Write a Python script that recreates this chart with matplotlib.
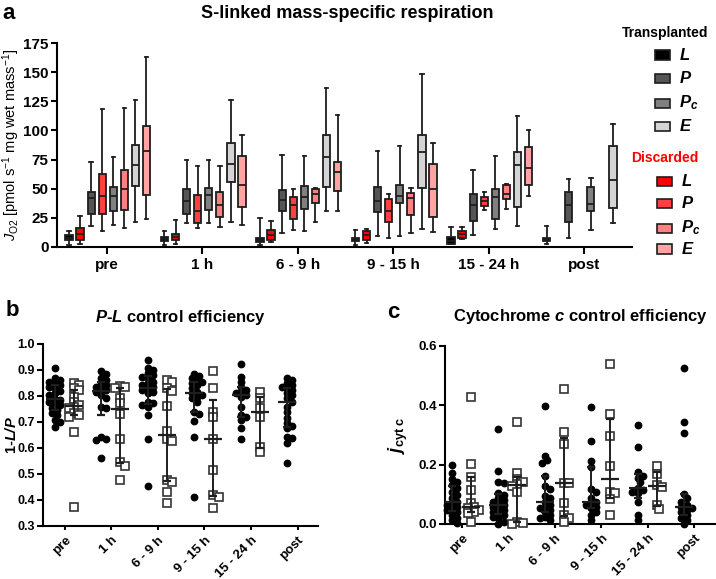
import numpy as np
import matplotlib
matplotlib.use('Agg')
import matplotlib.pyplot as plt
from matplotlib.patches import Rectangle

plt.rcParams['font.family'] = 'Liberation Sans'
plt.rcParams['mathtext.fontset'] = 'custom'
plt.rcParams['mathtext.rm'] = 'Liberation Sans'
plt.rcParams['mathtext.it'] = 'Liberation Sans:italic'
plt.rcParams['mathtext.bf'] = 'Liberation Sans:bold'
plt.rcParams['mathtext.bfit'] = 'Liberation Sans:italic:bold'

groups = ['pre', '1 h', '6 - 9 h', '9 - 15 h', '15 - 24 h', 'post']

# panel a: box stats per group (whisker low, q1, median, q3, whisker high)
T_L = [(2, 6, 8, 10, 14), (2, 5, 7, 9, 14), (1.5, 4.3, 6.3, 7.7, 24.5),
       (1.7, 5.1, 6.9, 8, 15), (2.9, 3, 5.4, 8.3, 17.5), (2.6, 5.1, 6.9, 8, 18)]
D_L = [(3, 6, 11, 16, 27), (3, 5.7, 8.6, 11.5, 23), (4.3, 6.3, 10, 14.3, 22),
       (3.5, 6, 10, 14, 15.5), (6.9, 8, 11.2, 14, 17.4), None]
T_P = [(17.8, 28.7, 42, 46.8, 72.9), (20.7, 28.7, 39.3, 49.6, 74.6), (12.3, 31, 40, 49.3, 79),
       (9.7, 29.7, 39.5, 51.2, 82.6), (10.3, 22, 35.7, 45.5, 66), (8, 21.4, 36.3, 46.9, 58.3)]
D_P = [(13.5, 28, 43.6, 63, 118.8), (16.4, 21, 31, 45, 69.7), (15, 24.4, 36.4, 43, 49.6),
       (8, 21.4, 30.9, 40.9, 45.8), (31.5, 35.2, 39.7, 43.2, 46.9), None]
T_Pc = [(18.6, 31.3, 43.6, 51.6, 77.5), (20.7, 31.6, 44.2, 50.2, 75), (13.5, 33, 43, 52.5, 78.3),
        (9.7, 37.7, 43.8, 52.9, 86.4), (15.7, 24.3, 42.9, 50, 77.8), (14.6, 30.9, 36.9, 51.2, 59.5)]
D_Pc = [(16.4, 31.6, 49.6, 66, 119), (17.2, 25.8, 36.4, 47.3, 69.7), (21.2, 37.5, 45.5, 49.5, 50.6),
        (11.7, 27.2, 42, 46.6, 50.9), (32.9, 40.9, 45.8, 53.2, 54.3), None]
T_E = [(21.5, 52.5, 70, 87.5, 126.5), (21.5, 56, 71, 89.5, 125.7), (30.7, 51.6, 77.5, 95.8, 136),
       (15.4, 50.3, 81.2, 96.4, 148.7), (18.3, 34.3, 70.3, 81.2, 112), (20.6, 33.2, 57.2, 86.6, 105.8)]
D_E = [(24, 44.5, 82, 104, 163), (18.6, 34.4, 53.6, 77.7, 96), (30.7, 48, 64.5, 72.5, 113),
       (12.6, 26, 49.5, 71.2, 89.5), (44, 53.2, 67.5, 85.5, 100.4), None]

series_labels = ['L', 'P', 'P_c', 'E']
T_colors = ['#000000', '#555555', '#808080', '#d4d4d4']
D_colors = ['#ff0000', '#ff4040', '#ff8080', '#ffa3a3']

# panel b: 1-L/P
pl_transplanted = [
    [0.906, 0.868, 0.862, 0.855, 0.849, 0.842, 0.836, 0.829, 0.82, 0.81, 0.804, 0.79, 0.785,
     0.778, 0.77, 0.765, 0.753, 0.745, 0.733, 0.727, 0.708, 0.699, 0.682],
    [0.896, 0.883, 0.868, 0.862, 0.849, 0.842, 0.836, 0.829, 0.823, 0.816, 0.804, 0.791,
     0.759, 0.753, 0.644, 0.635, 0.631, 0.56],
    [0.938, 0.906, 0.9, 0.887, 0.881, 0.874, 0.868, 0.855, 0.849, 0.842, 0.836, 0.829, 0.823,
     0.816, 0.81, 0.778, 0.772, 0.765, 0.759, 0.727, 0.633, 0.455],
    [0.883, 0.878, 0.868, 0.862, 0.855, 0.849, 0.842, 0.829, 0.817, 0.81, 0.804, 0.797, 0.791,
     0.778, 0.74, 0.729, 0.704, 0.641, 0.41],
    [0.922, 0.874, 0.855, 0.836, 0.823, 0.816, 0.81, 0.804, 0.797, 0.759, 0.727, 0.721,
     0.708, 0.678, 0.635],
    [0.871, 0.862, 0.849, 0.842, 0.836, 0.829, 0.823, 0.81, 0.804, 0.791, 0.778, 0.759, 0.74,
     0.714, 0.695, 0.686, 0.676, 0.644, 0.637, 0.618, 0.544],
]
pl_discarded = [
    [0.849, 0.842, 0.829, 0.823, 0.797, 0.778, 0.765, 0.759, 0.753, 0.733, 0.727, 0.72, 0.663, 0.372],
    [0.84, 0.836, 0.829, 0.791, 0.772, 0.729, 0.633, 0.545, 0.531, 0.477],
    [0.862, 0.855, 0.832, 0.819, 0.763, 0.667, 0.635, 0.627, 0.477, 0.471, 0.429, 0.388],
    [0.897, 0.832, 0.737, 0.718, 0.633, 0.515, 0.419, 0.41, 0.368],
    [0.814, 0.791, 0.755, 0.72, 0.603, 0.585],
    [],
]

# panel c: j cyt c
cyt_transplanted = [
    [0.199, 0.173, 0.151, 0.143, 0.131, 0.12, 0.109, 0.098, 0.087, 0.075, 0.07, 0.064, 0.058,
     0.053, 0.047, 0.042, 0.03, 0.021, 0.013, 0.004],
    [0.32, 0.18, 0.143, 0.137, 0.103, 0.098, 0.087, 0.081, 0.075, 0.07, 0.064, 0.058, 0.053,
     0.047, 0.042, 0.036, 0.03, 0.025, 0.019, 0.008, 0.0],
    [0.399, 0.23, 0.216, 0.207, 0.163, 0.129, 0.118, 0.096, 0.087, 0.075, 0.064, 0.058, 0.053,
     0.047, 0.042, 0.03, 0.025, 0.019, 0.013],
    [0.396, 0.281, 0.213, 0.191, 0.117, 0.109, 0.087, 0.075, 0.07, 0.064, 0.058, 0.053, 0.042,
     0.03, 0.013],
    [0.334, 0.261, 0.174, 0.163, 0.156, 0.143, 0.12, 0.115, 0.109, 0.103, 0.075, 0.03, 0.013],
    [0.527, 0.345, 0.306, 0.1, 0.087, 0.075, 0.064, 0.058, 0.053, 0.047, 0.042, 0.03, 0.021,
     0.013, 0.0],
]
cyt_discarded = [
    [0.427, 0.202, 0.158, 0.115, 0.072, 0.058, 0.053, 0.047, 0.042, 0.036, 0.006],
    [0.345, 0.173, 0.152, 0.143, 0.135, 0.129, 0.109, 0.008, 0.004, 0.001],
    [0.454, 0.311, 0.27, 0.139, 0.137, 0.07, 0.03, 0.021, 0.006],
    [0.539, 0.371, 0.298, 0.196, 0.109, 0.103, 0.083, 0.03],
    [0.196, 0.167, 0.131, 0.126, 0.064, 0.049],
    [],
]

EDGE = '#1e1e1e'
W, H = 716.0, 579.0


def style_axes(ax, tick_size):
    for side in ['top', 'right']:
        ax.spines[side].set_visible(False)
    for side in ['left', 'bottom']:
        ax.spines[side].set_linewidth(1.5)
    ax.tick_params(width=1.5, length=4, labelsize=tick_size, direction='out', pad=2)
    for lab in ax.get_xticklabels() + ax.get_yticklabels():
        lab.set_fontweight('bold')


def swarm_x(values, center, px_per_x, px_per_y, size=4.6, step=2.6, kmax=3):
    # small beeswarm: spread crowded points sideways, accept overlap when it gets too full
    values = np.asarray(values, dtype=float)
    xs = np.zeros(len(values))
    placed = []
    ks = [0]
    for k in range(1, kmax + 1):
        ks += [k, -k]
    for i in np.argsort(values)[::-1]:
        y = values[i] * px_per_y
        best, best_d = 0.0, -1.0
        for k in ks:
            x = k * step
            d = min([np.hypot(x - px, y - py) for px, py in placed] + [99.0])
            if d >= size:
                best = x
                break
            if d > best_d + 0.5:
                best, best_d = x, d
        placed.append((best, y))
        xs[i] = center + best / px_per_x
    return xs


def dot_panel(ax, trans, disc, px_per_x, px_per_y):
    for g in range(len(groups)):
        for vals, off, kind in [(trans[g], -0.22, 'dot'), (disc[g], 0.19, 'sq')]:
            if len(vals) == 0:
                continue
            xs = swarm_x(vals, g + off, px_per_x, px_per_y)
            if kind == 'dot':
                ax.plot(xs, vals, 'o', ms=4.6, color='black', mec='black', clip_on=False, zorder=3)
            else:
                ax.plot(xs, vals, 's', ms=5.3, mfc='white', mec='#333333', mew=1.2,
                        clip_on=False, zorder=3)
            q1, med, q3 = np.percentile(vals, [25, 50, 75], method='weibull')
            ax.errorbar([g + off], [med], yerr=[[med - q1], [q3 - med]], fmt='_', ms=13,
                        mew=1.6, color=EDGE, elinewidth=1.4, capsize=3, capthick=1.4, zorder=4)


fig = plt.figure(figsize=(7.16, 5.79), dpi=100)

# ---- panel a ----
ax_a = fig.add_axes([57 / W, 1 - 247 / H, 575 / W, 204 / H])
all_series = [T_L, D_L, T_P, D_P, T_Pc, D_Pc, T_E, D_E]
all_colors = [T_colors[0], D_colors[0], T_colors[1], D_colors[1],
              T_colors[2], D_colors[2], T_colors[3], D_colors[3]]
for k, (stats, color) in enumerate(zip(all_series, all_colors)):
    offset = -0.395 + k * 0.116
    for g, s in enumerate(stats):
        if s is None:
            continue
        lo, q1, med, q3, hi = s
        ax_a.bxp([dict(whislo=lo, q1=q1, med=med, q3=q3, whishi=hi, fliers=[])],
                 positions=[g + offset], widths=0.075, patch_artist=True, showfliers=False,
                 capwidths=0.035, manage_ticks=False,
                 boxprops=dict(facecolor=color, edgecolor=EDGE, linewidth=1.3),
                 medianprops=dict(color=EDGE, linewidth=1.3),
                 whiskerprops=dict(color=EDGE, linewidth=1.3),
                 capprops=dict(color=EDGE, linewidth=1.3))
ax_a.set_xlim(-0.52, 5.5)
ax_a.set_ylim(0, 175)
ax_a.set_yticks(range(0, 176, 25))
ax_a.set_xticks(range(len(groups)))
ax_a.set_xticklabels(groups)
style_axes(ax_a, 11)
ax_a.tick_params(axis='x', length=5, pad=3)
ax_a.set_ylabel(r'$J_{\mathrm{O2}}$ [pmol s$^{-1}$ mg wet mass$^{-1}$]', fontsize=10.5, labelpad=1)
fig.text(0.485, 0.977, 'S-linked mass-specific respiration', ha='center', va='center',
         fontsize=13, fontweight='bold')
fig.text(0.004, 0.977, 'a', ha='left', va='center', fontsize=16, fontweight='bold')

# legend drawn by hand in figure pixels
fig.text(665 / W, 1 - 33 / H, 'Transplanted', ha='center', va='center', fontsize=10,
         fontweight='bold', color='black')
fig.text(665 / W, 1 - 158 / H, 'Discarded', ha='center', va='center', fontsize=10,
         fontweight='bold', color='#ff0000')
t_rows = [55, 78, 103, 126]
d_rows = [181, 203, 228, 249]
for lab, tc, dc, ty, dy in zip(series_labels, T_colors, D_colors, t_rows, d_rows):
    for x0, y0, c in [(655, ty, tc), (657, dy, dc)]:
        fig.patches.append(Rectangle((x0 / W, 1 - (y0 + 4.5) / H), 15 / W, 9 / H,
                                     transform=fig.transFigure, facecolor=c,
                                     edgecolor=EDGE, linewidth=1.2))
        fig.text((x0 + 24) / W, 1 - y0 / H, r'$\mathbfit{' + lab + '}$', ha='left',
                 va='center', fontsize=12)

# ---- panel b ----
ax_b = fig.add_axes([43 / W, 1 - 526 / H, 275 / W, 182 / H])
dot_panel(ax_b, pl_transplanted, pl_discarded, 46.5, 260.0)
ax_b.set_xlim(-0.47, 5.44)
ax_b.set_ylim(0.3, 1.0)
ax_b.set_yticks(np.arange(0.3, 1.01, 0.1))
ax_b.set_yticklabels(['0.3', '0.4', '0.5', '0.6', '0.7', '0.8', '0.9', '1.0'])
ax_b.set_xticks(range(len(groups)))
ax_b.set_xticklabels(groups, rotation=45, ha='right', rotation_mode='anchor')
style_axes(ax_b, 9)
ax_b.tick_params(axis='x', length=3, pad=3, labelsize=9.5)
ax_b.set_ylabel(r'1-$\mathbfit{L/P}$', fontsize=10.5, fontweight='bold')
ax_b.yaxis.set_label_coords(-0.088, 0.5)
ax_b.set_title(r'$\mathbfit{P}$-$\mathbfit{L}$ control efficiency', fontsize=12,
               fontweight='bold', pad=16)
fig.text(0.008, 1 - 310 / H, 'b', ha='left', va='center', fontsize=16, fontweight='bold')

# ---- panel c ----
ax_c = fig.add_axes([445 / W, 1 - 524 / H, 271 / W, 178 / H])
dot_panel(ax_c, cyt_transplanted, cyt_discarded, 46.4, 178.0 / 0.6)
ax_c.set_xlim(-0.37, 5.47)
ax_c.set_ylim(0, 0.6)
ax_c.set_yticks([0.0, 0.2, 0.4, 0.6])
ax_c.set_yticklabels(['0.0', '0.2', '0.4', '0.6'])
ax_c.set_xticks(range(len(groups)))
ax_c.set_xticklabels(groups, rotation=45, ha='right', rotation_mode='anchor')
style_axes(ax_c, 9.5)
ax_c.tick_params(axis='x', length=3, pad=3)
ax_c.set_ylabel(r'$\mathbfit{j}_{\mathbf{cyt\ c}}$', fontsize=13)
ax_c.yaxis.set_label_coords(-0.13, 0.5)
ax_c.set_title(r'Cytochrome $\mathbfit{c}$ control efficiency', fontsize=12,
               fontweight='bold', pad=18)
fig.text(393 / W, 1 - 313 / H, 'c', ha='center', va='center', fontsize=16, fontweight='bold')

fig.savefig('out.png', dpi=100)
